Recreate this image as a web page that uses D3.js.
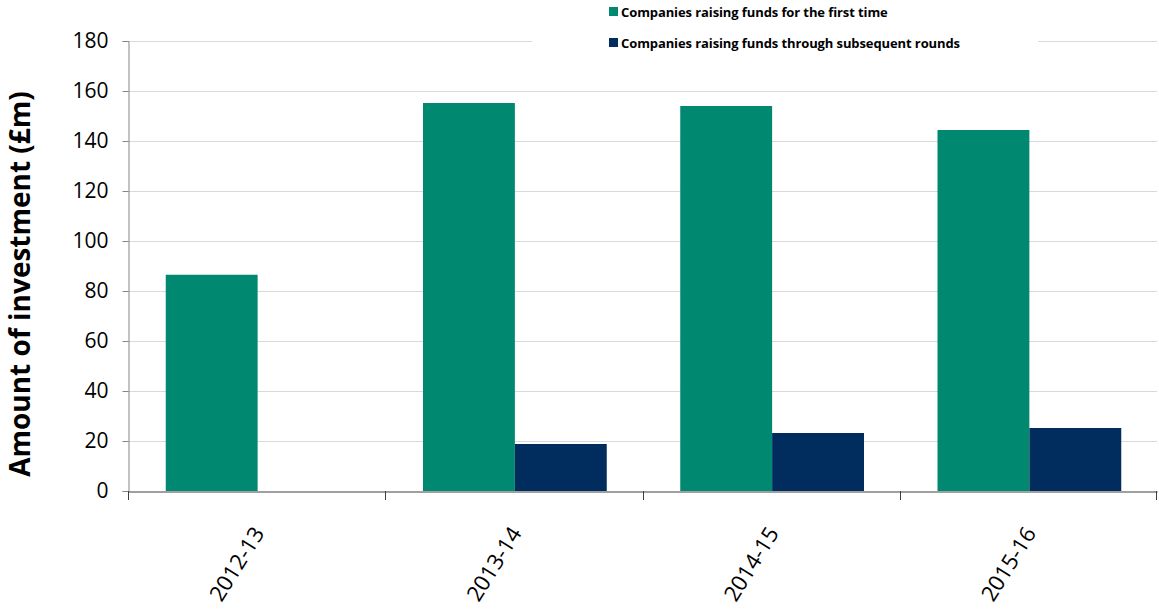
<!DOCTYPE html>
<html>
<head>
<meta charset="utf-8">
<script src="https://cdnjs.cloudflare.com/ajax/libs/d3/7.8.5/d3.min.js"></script>
<style>
  body { margin: 0; background: #fff; }
  svg { display: block; }
</style>
</head>
<body>
<div class="chart"></div>
<script>
const width = 1159,
      height = 609,
      font = "'Open Sans', sans-serif";

// data
const years = ["2012-13", "2013-14", "2014-15", "2015-16"];
const firstTime = [86.5, 155.2, 154.0, 144.4];
const subsequent = [0, 18.8, 23.2, 25.2];
const seriesNames = ["Companies raising funds for the first time",
                     "Companies raising funds through subsequent rounds"];
const yTicks = [0, 20, 40, 60, 80, 100, 120, 140, 160, 180];

const colors = ["#008870", "#002d5e"];
const margin = {top: 41, right: 2, bottom: 118, left: 128};

let svg = d3.select(".chart").append("svg")
  .attr("width", width)
  .attr("height", height);

let x = d3.scaleBand()
  .domain(years)
  .range([margin.left, width - margin.right]);

let xInner = d3.scaleBand()
  .domain([0, 1])
  .range([0, x.bandwidth()])
  .paddingInner(0)
  .paddingOuter(0.4);

let y = d3.scaleLinear()
  .domain([0, 180])
  .range([height - margin.bottom, margin.top]);

// gridlines
svg.append("g")
  .selectAll("line")
  .data(yTicks.slice(1))
  .enter().append("line")
    .attr("x1", margin.left)
    .attr("x2", width - margin.right)
    .attr("y1", d => y(d) + 0.5)
    .attr("y2", d => y(d) + 0.5)
    .style("stroke", "#d9d9d9")
    .style("stroke-width", 1);

// bars
const rows = years.map((yr, i) => ({year: yr, vals: [firstTime[i], subsequent[i]]}));

let groups = svg.selectAll("g.year")
  .data(rows)
  .enter().append("g")
    .attr("class", "year")
    .attr("transform", d => "translate(" + x(d.year) + ",0)");

groups.selectAll("rect")
  .data(d => d.vals)
  .enter().append("rect")
    .attr("x", (d, i) => xInner(i) + 1)
    .attr("width", xInner.bandwidth())
    .attr("y", d => y(d))
    .attr("height", d => y(0) - y(d))
    .style("fill", (d, i) => colors[i]);

// y axis
let yAxis = svg.append("g")
  .attr("transform", "translate(" + (margin.left + 0.5) + ",0)")
  .call(d3.axisLeft(y).tickValues(yTicks).tickSize(6).tickPadding(14));

yAxis.select(".domain").style("stroke", "#868686");
yAxis.selectAll(".tick line").style("stroke", "#868686");
yAxis.selectAll("text")
  .style("font-family", font)
  .style("font-size", "21px")
  .style("fill", "#000");

// x axis
let xAxis = svg.append("g")
  .attr("transform", "translate(0," + (y(0) + 0.5) + ")")
  .call(d3.axisBottom(x).tickSize(0).tickFormat(""));

xAxis.select(".domain").style("stroke", "#404040");

svg.append("g")
  .selectAll("line")
  .data(years.concat(["end"]))
  .enter().append("line")
    .attr("x1", (d, i) => i < years.length ? Math.round(x(d)) + 0.5 : width - margin.right - 0.5)
    .attr("x2", (d, i) => i < years.length ? Math.round(x(d)) + 0.5 : width - margin.right - 0.5)
    .attr("y1", y(0))
    .attr("y2", y(0) + 9)
    .style("stroke", "#404040");

svg.append("g")
  .selectAll("text")
  .data(years)
  .enter().append("text")
    .attr("transform", d => "translate(" + (x(d) + x.bandwidth() / 2 + 2) + "," + (y(0) + 38) + ") rotate(-58)")
    .attr("text-anchor", "end")
    .attr("dy", "0.35em")
    .style("font-family", font)
    .style("font-size", "22px")
    .text(d => d);

// y title
svg.append("text")
  .attr("transform", "translate(30," + 284 + ") rotate(-90)")
  .attr("text-anchor", "middle")
  .style("font-family", font)
  .style("font-weight", "bold")
  .style("font-size", "28px")
  .text("Amount of investment (£m)");

// legend with white background
let legend = svg.append("g");
legend.append("rect")
  .attr("x", 532)
  .attr("y", 0)
  .attr("width", 506)
  .attr("height", 56)
  .style("fill", "#fff");

let items = legend.selectAll("g")
  .data(seriesNames)
  .enter().append("g")
    .attr("transform", (d, i) => "translate(609," + (7 + i * 31) + ")");

items.append("rect")
  .attr("width", 9)
  .attr("height", 9)
  .style("fill", (d, i) => colors[i]);

items.append("text")
  .attr("x", 12)
  .attr("y", 5)
  .attr("dy", "0.35em")
  .style("font-family", font)
  .style("font-weight", "bold")
  .style("font-size", "13px")
  .style("letter-spacing", "-0.1px")
  .text(d => d);
</script>
</body>
</html>
